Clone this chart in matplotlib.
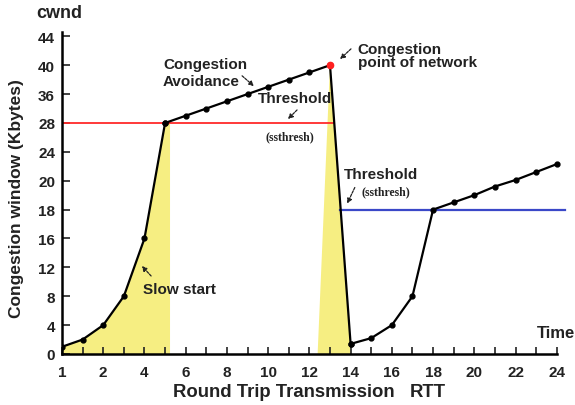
import matplotlib
matplotlib.use("Agg")
import matplotlib.pyplot as plt
import numpy as np

plt.rcParams['font.family'] = ['Liberation Sans', 'DejaVu Sans']
plt.rcParams['font.weight'] = 'bold'

# data (RTT index, cwnd in Kbytes)
slow_x = [0, 1, 2, 3, 4, 5]
slow_y = [1, 2, 4, 8, 16, 28]
avoid_x = [5, 6, 7, 8, 9, 10, 11, 12, 13]
avoid_y = [28, 30, 32, 34, 36, 37, 38, 39, 40]
drop_x = [13, 14]
drop_y = [40, 1.4]
recover_x = [14, 15, 16, 17, 18, 19, 20, 21, 22, 23, 24]
recover_y = [1.4, 2.2, 4, 8, 18, 18.5, 19, 19.6, 20.1, 21.2, 22.3]
peak = (13, 40)
thresh1 = 28
thresh2 = 18

# axis labels (the picture has unevenly spaced tick values)
x_ticks = list(range(0, 25))
x_labels = ["1", "2", "4", "6", "8", "10", "12", "14", "16", "18", "20", "22", "24"]
y_ticks = [0, 4, 8, 12, 16, 18, 20, 24, 28, 36, 40, 44]

W, H = 575, 406
TXT = '#222222'

# piecewise scale: every y tick gets the same spacing
y_vals = np.array(y_ticks + [48], dtype=float)
y_pos = np.arange(len(y_vals), dtype=float)

def fwd(v):
    return np.interp(v, y_vals, y_pos)

def inv(p):
    return np.interp(p, y_pos, y_vals)

def fp(x, y):  # pixel position in the picture -> figure fraction
    return (x / W, 1 - y / H)

fig = plt.figure(figsize=(W / 100, H / 100), dpi=100)
ax = fig.add_axes([62 / W, 51 / H, 503 / W, 322 / H])
ax.set_yscale('function', functions=(fwd, inv))
ax.set_xlim(0, 24.4)
ax.set_ylim(0, 44.6)

# yellow areas
fill1_x = slow_x + [5.24, 5.24]
fill1_y = slow_y + [28, 0]
ax.fill([0] + fill1_x, [0] + fill1_y, color='#f6ee82', lw=0, zorder=1)
ax.fill([12.4, 13, 14, 14], [0, 40, 1.4, 0], color='#f6ee82', lw=0, zorder=1)

# thresholds
ax.plot([0, 13.2], [thresh1, thresh1], color='#ff2a2a', lw=1.3, zorder=2)
ax.plot([13.5, 24.4], [thresh2, thresh2], color='#3a48c8', lw=1.6, zorder=2, clip_on=False)

# cwnd curve
for xs, ys in [(slow_x, slow_y), (avoid_x, avoid_y), (drop_x, drop_y), (recover_x, recover_y)]:
    ax.plot(xs, ys, color='black', lw=1.6, marker='o', ms=3.5, zorder=3)
ax.plot([peak[0]], [peak[1]], 'o', color='#ff2020', ms=4.5, zorder=4)

# axes style
for s in ['top', 'right']:
    ax.spines[s].set_visible(False)
for s in ['left', 'bottom']:
    ax.spines[s].set_linewidth(1.8)
ax.spines['bottom'].set_bounds(0, 24)
ax.spines['left'].set_bounds(0, 44.6)
ax.set_xticks(x_ticks)
ax.set_xticklabels([x_labels[i // 2] if i % 2 == 0 else '' for i in x_ticks])
ax.set_yticks(y_ticks)
ax.set_yticklabels([str(v) for v in y_ticks])
ax.yaxis.set_minor_locator(matplotlib.ticker.NullLocator())
ax.tick_params(direction='in', length=6, width=1.2, labelsize=11, colors=TXT)
ax.tick_params(axis='x', pad=8, length=5)
ax.tick_params(axis='y', pad=5)
for lab in ax.get_xticklabels() + ax.get_yticklabels():
    lab.set_fontweight('bold')

# texts
fig.text(*fp(36, 13), 'cwnd', fontsize=13, color=TXT, va='center', ha='left')
fig.text(*fp(17, 199), 'Congestion window (Kbytes)', fontsize=12.5, color=TXT,
         rotation=90, va='center', ha='center')
fig.text(*fp(173, 393), 'Round Trip Transmission', fontsize=13.3, color=TXT, va='center', ha='left')
fig.text(*fp(410, 393), 'RTT', fontsize=13.3, color=TXT, va='center', ha='left')
fig.text(*fp(537, 333), 'Time', fontsize=12, color=TXT, va='center', ha='left')
fig.text(*fp(163, 65), 'Congestion', fontsize=11, color=TXT, va='center', ha='left')
fig.text(*fp(163, 82), 'Avoidance', fontsize=11, color=TXT, va='center', ha='left')
fig.text(*fp(258, 99), 'Threshold', fontsize=11, color=TXT, va='center', ha='left')
fig.text(*fp(265, 137), '(ssthresh)', fontsize=8.5, color=TXT, va='center', ha='left',
         family='Liberation Serif')
fig.text(*fp(357, 50), 'Congestion', fontsize=11, color=TXT, va='center', ha='left')
fig.text(*fp(358, 63), 'point of network', fontsize=11, color=TXT, va='center', ha='left')
fig.text(*fp(344, 175), 'Threshold', fontsize=11, color=TXT, va='center', ha='left')
fig.text(*fp(362, 192), '(ssthresh)', fontsize=8.5, color=TXT, va='center', ha='left',
         family='Liberation Serif')
fig.text(*fp(143, 290), 'Slow start', fontsize=11, color=TXT, va='center', ha='left')

# small dashed arrows
arrows = [((240, 75), (256, 89)), ((299, 109), (286, 122)), ((353, 48), (338, 62)),
          ((356, 186), (346, 207)), ((153, 279), (140, 265))]
for start, end in arrows:
    fig.add_artist(matplotlib.patches.FancyArrowPatch(
        fp(*start), fp(*end), transform=fig.transFigure, arrowstyle='-|>',
        mutation_scale=7, lw=0.9, linestyle=(0, (2, 1)), color=TXT))

fig.savefig('out.png', dpi=100)
